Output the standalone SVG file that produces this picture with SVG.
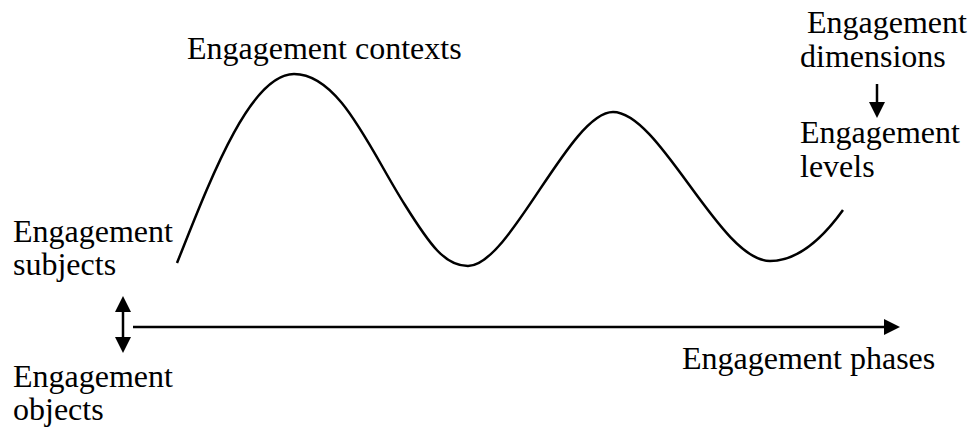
<svg xmlns="http://www.w3.org/2000/svg" width="973" height="430" viewBox="0 0 973 430">
  <defs>
    <style>
      .t { font-family: "Liberation Serif", "Times New Roman", serif; font-size: 32px; fill: #000; }
      .ln { stroke: #000; stroke-width: 2.5; fill: none; }
    </style>
    <marker id="head" viewBox="0 0 16 16" markerWidth="16" markerHeight="16" refX="2" refY="8" markerUnits="userSpaceOnUse" orient="auto-start-reverse">
      <path d="M0,0 L16,8 L0,16 z" fill="#000"/>
    </marker>
  </defs>
  <rect width="973" height="430" fill="#fff"/>

  <g id="connectors">
    <path id="wave" class="ln" d="M177,263 C210,180 250,74 294,74 C340,74 370,150 405,205 C430,245 445,266 468,266 C510,266 570,112 613,112 C660,112 720,261 770,261 C800,261 825,235 843,210"/>
    <line id="phase-axis" class="ln" x1="133" y1="327" x2="886" y2="327" marker-end="url(#head)"/>
    <line id="subject-object-arrow" class="ln" x1="123" y1="310" x2="123" y2="339" marker-start="url(#head)" marker-end="url(#head)"/>
    <line id="dimension-level-arrow" class="ln" x1="877" y1="84" x2="877" y2="104" marker-end="url(#head)"/>
  </g>

  <g id="contexts">
    <text class="t" x="187" y="59">Engagement contexts</text>
  </g>
  <g id="dimensions">
    <text class="t" x="807" y="33">Engagement</text>
    <text class="t" x="800" y="67">dimensions</text>
  </g>
  <g id="levels">
    <text class="t" x="800" y="143">Engagement</text>
    <text class="t" x="800" y="177">levels</text>
  </g>
  <g id="subjects">
    <text class="t" x="13" y="242">Engagement</text>
    <text class="t" x="13" y="275">subjects</text>
  </g>
  <g id="objects">
    <text class="t" x="13" y="387">Engagement</text>
    <text class="t" x="13" y="420">objects</text>
  </g>
  <g id="phases">
    <text class="t" x="682" y="369">Engagement phases</text>
  </g>
</svg>
